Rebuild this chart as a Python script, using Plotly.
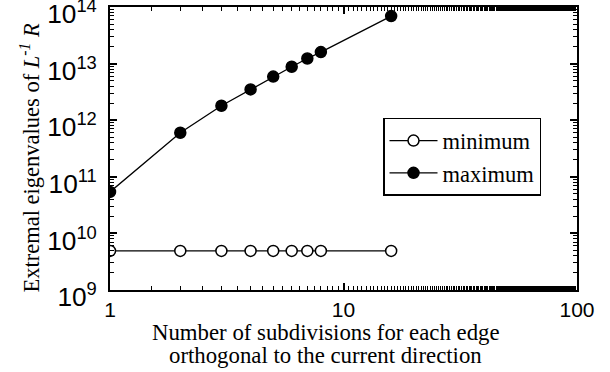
import plotly.graph_objects as go

subdivisions = [1, 2, 3, 4, 5, 6, 7, 8, 16]
minimum_vals = [4.9e9, 4.9e9, 4.9e9, 4.9e9, 4.9e9, 4.9e9, 4.9e9, 4.9e9, 4.9e9]
maximum_vals = [5.4e10, 6.0e11, 1.8e12, 3.5e12, 5.9e12, 8.8e12, 1.23e13, 1.6e13, 6.9e13]

x_title_lines = ["Number of subdivisions for each edge", "orthogonal to the current direction"]
y_title = "Extremal eigenvalues of <i>L</i><sup><i>-1</i></sup> <i>R</i>"

SERIF = "Liberation Serif, Times New Roman, serif"
SANS = "Liberation Sans, Arial, sans-serif"

fig = go.Figure()
fig.add_trace(go.Scatter(
    x=subdivisions, y=minimum_vals, mode="lines+markers", name="minimum",
    line=dict(color="black", width=1.3),
    marker=dict(symbol="circle", size=11, color="white", line=dict(color="black", width=1.5)),
))
fig.add_trace(go.Scatter(
    x=subdivisions, y=maximum_vals, mode="lines+markers", name="maximum",
    line=dict(color="black", width=1.3),
    marker=dict(symbol="circle", size=11, color="black", line=dict(color="black", width=1.5)),
))

axis_common = dict(
    showline=True, linecolor="black", linewidth=2, mirror="ticks",
    ticks="inside", ticklen=7, tickwidth=1.5, tickcolor="black",
    showgrid=False, zeroline=False, automargin=False,
    minor=dict(ticks="inside", ticklen=4, tickwidth=1, tickcolor="black", showgrid=False),
    tickfont=dict(family=SANS, size=21, color="black"),
    ticklabeloverflow="allow",
)

fig.update_xaxes(
    type="log", range=[0, 2], tickvals=[1, 10, 100], ticktext=["1", "10", "100"],
    ticklabelstandoff=0,
    **axis_common,
)
fig.update_yaxes(
    type="log", range=[9, 14], dtick=1, exponentformat="power",
    ticklabelstandoff=7, ticklabelshift=7,
    **axis_common,
)

annotations = [
    dict(text=x_title_lines[0], xref="paper", yref="paper", x=0.4625, y=0,
         xanchor="center", yanchor="middle", yshift=-42, showarrow=False,
         font=dict(family=SERIF, size=22.8, color="black")),
    dict(text=x_title_lines[1], xref="paper", yref="paper", x=0.4625, y=0,
         xanchor="center", yanchor="middle", yshift=-65, showarrow=False,
         font=dict(family=SERIF, size=22.8, color="black")),
    dict(text=y_title, xref="paper", yref="paper", x=0, y=0.5,
         xanchor="center", yanchor="middle", xshift=-81, yshift=-9, textangle=-90,
         showarrow=False, font=dict(family=SERIF, size=22.5, color="black")),
]

fig.update_layout(
    width=610, height=372,
    margin=dict(l=110, r=33, t=7, b=82, autoexpand=False),
    paper_bgcolor="white", plot_bgcolor="white",
    annotations=annotations,
    legend=dict(
        x=0.5846, y=0.608, xanchor="left", yanchor="top",
        bordercolor="black", borderwidth=1.5, bgcolor="white",
        font=dict(family=SERIF, size=22.5, color="black"),
        itemwidth=48, tracegroupgap=0,
    ),
)

fig.write_html("out.html")
